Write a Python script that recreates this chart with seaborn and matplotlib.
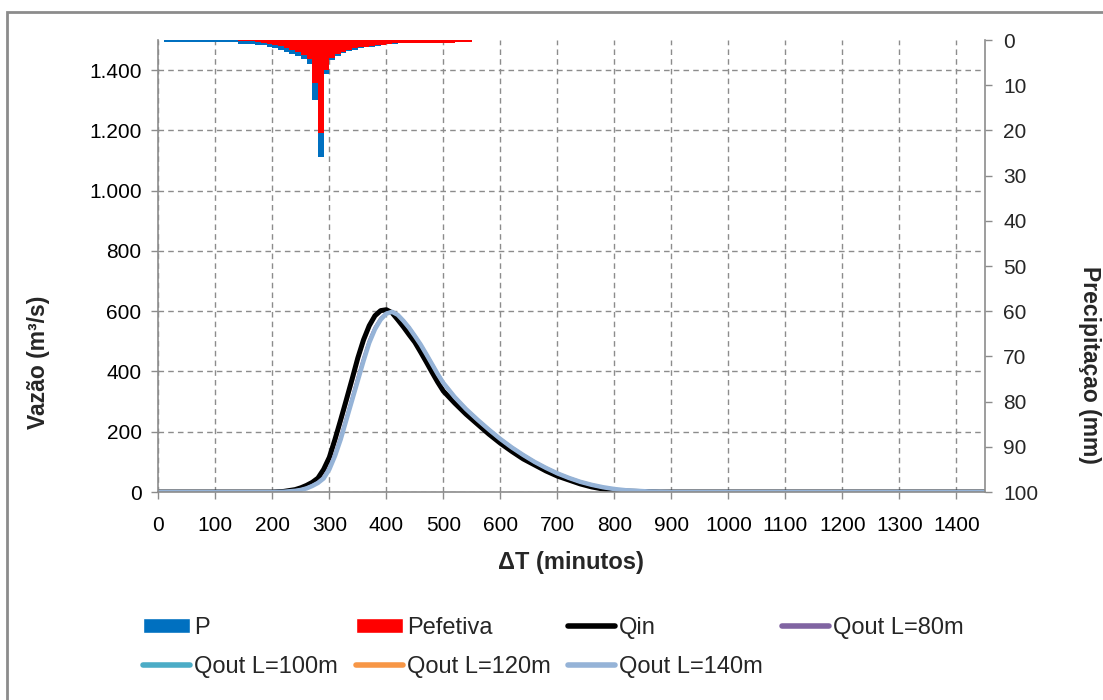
import numpy as np
import pandas as pd
import seaborn as sns
import matplotlib.pyplot as plt
from matplotlib.patches import Patch, Rectangle
from matplotlib.lines import Line2D
from matplotlib.ticker import FuncFormatter

# Hietograma (barras de 10 min, borda esquerda em t)
t_chuva = np.arange(10, 550, 10)
p_total = [0.5, 0.5, 0.5, 0.5, 0.5, 0.5, 0.5, 0.5, 0.5, 0.5, 0.5, 0.5, 0.5,
           0.8, 0.85, 0.9, 1.0, 1.1, 1.5, 1.85, 2.2, 2.6, 3.0, 3.6, 4.3, 5.2,
           13.3, 25.8, 7.6, 4.4, 3.5, 2.9, 2.5, 2.1, 1.85, 1.6, 1.5, 1.3, 1.1,
           0.95, 0.8, 0.75, 0.7, 0.65, 0.65, 0.6, 0.6, 0.6, 0.55, 0.55, 0.55,
           0.5, 0.5, 0.5]
p_efetiva = [0, 0, 0, 0, 0, 0, 0, 0, 0, 0, 0, 0, 0,
             0.15, 0.2, 0.3, 0.4, 0.55, 0.8, 1.05, 1.35, 1.7, 2.1, 2.6, 3.3, 4.2,
             9.5, 20.6, 6.6, 3.9, 3.1, 2.6, 2.2, 1.85, 1.65, 1.45, 1.35, 1.15, 1.0,
             0.85, 0.72, 0.68, 0.7, 0.65, 0.65, 0.6, 0.6, 0.6, 0.55, 0.55, 0.55,
             0.5, 0.5, 0.5]

# Hidrogramas
t_q = [0, 200, 220, 240, 250, 260, 270, 280, 290, 300, 310, 320, 330, 340, 350,
       360, 370, 380, 390, 400, 410, 420, 430, 440, 450, 460, 470, 480, 490, 500,
       520, 540, 560, 580, 600, 620, 640, 660, 680, 700, 720, 740, 760, 780, 800,
       820, 840, 860, 880, 900, 920, 1450]
q_in = [0, 0, 2, 8, 14, 22, 32, 46, 75, 115, 175, 240, 307, 375, 445,
        505, 552, 585, 602, 605, 595, 572, 548, 522, 497, 465, 432, 398, 365, 335,
        295, 258, 225, 192, 162, 135, 110, 90, 70, 53, 40, 27, 17, 10, 5,
        3, 2, 1, 0, 0, 0, 0]
q_out_80 = [0, 0, 1, 5, 8, 14, 22, 33, 50, 82, 128, 185, 250, 315, 382,
            446, 504, 547, 577, 594, 599, 589, 569, 546, 519, 490, 458, 425, 392, 362,
            314, 274, 239, 206, 175, 147, 122, 99, 79, 61, 46, 33, 23, 15, 9,
            6, 3, 2, 1, 0, 0, 0]
q_out_100 = [0, 0, 1, 4, 7, 13, 21, 31, 47, 78, 123, 179, 244, 309, 375,
             440, 499, 543, 574, 593, 598, 588, 568, 545, 518, 490, 458, 425, 392, 362,
             315, 275, 240, 207, 176, 148, 123, 100, 80, 62, 47, 34, 24, 16, 10,
             6, 4, 2, 1, 0, 0, 0]
q_out_120 = [0, 0, 1, 4, 7, 12, 20, 30, 46, 76, 121, 177, 242, 307, 372,
             437, 497, 541, 573, 592, 598, 588, 568, 545, 518, 490, 458, 426, 393, 363,
             316, 276, 241, 208, 177, 149, 124, 101, 81, 63, 48, 35, 25, 16, 10,
             6, 4, 2, 1, 0, 0, 0]
q_out_140 = [0, 0, 1, 4, 7, 12, 20, 30, 45, 75, 120, 175, 240, 305, 370,
             435, 495, 540, 572, 592, 598, 588, 568, 545, 518, 490, 458, 425, 392, 362,
             315, 275, 240, 207, 176, 148, 123, 100, 80, 62, 47, 34, 24, 16, 10,
             6, 4, 2, 1, 0, 0, 0]

series = [
    ("Qin", q_in, "#000000", 3.6),
    ("Qout L=80m", q_out_80, "#8064A2", 2.0),
    ("Qout L=100m", q_out_100, "#4BACC6", 2.0),
    ("Qout L=120m", q_out_120, "#F79646", 2.0),
    ("Qout L=140m", q_out_140, "#95B3D7", 3.2),
]

sns.set_theme(style="white")
plt.rcParams['font.family'] = ['Liberation Sans', 'DejaVu Sans']

fig = plt.figure(figsize=(11.03, 7.0), dpi=100)
ax = fig.add_axes([0.1435, 0.2971, 0.7495, 0.6457])

df = pd.DataFrame({"t": t_q})
for nome, vals, cor, lw in series:
    df[nome] = vals
    sns.lineplot(data=df, x="t", y=nome, ax=ax, color=cor, linewidth=lw,
                 legend=False, solid_capstyle="round")

cinza = "#8c8c8c"
tick_fs = 15
ax.set_xlim(0, 1450)
ax.set_ylim(0, 1500)
ax.set_xticks(np.arange(0, 1500, 100))
ax.set_yticks(np.arange(0, 1500, 200))
ax.yaxis.set_major_formatter(FuncFormatter(lambda v, p: f"{v:,.0f}".replace(",", ".")))
ax.grid(True, color=cinza, linestyle=(0, (4, 3)), linewidth=1)
ax.set_xlabel("")
ax.set_ylabel("")
for s in ["top", "right"]:
    ax.spines[s].set_visible(False)
for s in ["left", "bottom"]:
    ax.spines[s].set_color(cinza)
    ax.spines[s].set_linewidth(1.2)
ax.tick_params(axis="both", which="both", direction="out", length=5, width=1,
               color=cinza, labelsize=tick_fs, labelcolor="black",
               left=True, bottom=True)
ax.tick_params(axis="x", pad=12)
ax.tick_params(axis="y", pad=7)

ax2 = ax.twinx()
ax2.bar(t_chuva, p_total, width=10, align="edge", color="#0070C0", linewidth=0)
ax2.bar(t_chuva, p_efetiva, width=10, align="edge", color="#FF0000", linewidth=0)
ax2.set_ylim(100, 0)
ax2.set_yticks(np.arange(0, 101, 10))
ax2.set_xlim(0, 1450)
ax2.grid(False)
for s in ["top", "left", "bottom"]:
    ax2.spines[s].set_visible(False)
ax2.spines["right"].set_color(cinza)
ax2.spines["right"].set_linewidth(1.2)
ax2.tick_params(axis="y", direction="out", length=5, width=1, color=cinza,
                labelsize=tick_fs, right=True, pad=8)

fig.text(38 / 1103, 1 - 362 / 700, "Vazão (m³/s)", rotation=90, ha="center",
         va="center", fontsize=16.5, fontweight="bold")
fig.text(1089 / 1103, 1 - 365 / 700, "Precipitaçao (mm)", rotation=270,
         ha="center", va="center", fontsize=16.5, fontweight="bold")
fig.text(571 / 1103, 1 - 563 / 700, "ΔT (minutos)", ha="center", va="center",
         fontsize=17, fontweight="bold")

# legenda em 4 colunas fixas
colunas = [
    [Patch(facecolor="#0070C0", label="P"), Line2D([], [], color="#4BACC6", lw=4, label="Qout L=100m")],
    [Patch(facecolor="#FF0000", label="Pefetiva"), Line2D([], [], color="#F79646", lw=4, label="Qout L=120m")],
    [Line2D([], [], color="#000000", lw=4, label="Qin"), Line2D([], [], color="#95B3D7", lw=4, label="Qout L=140m")],
    [Line2D([], [], color="#8064A2", lw=4, label="Qout L=80m")],
]
x_cols = [143, 356, 568, 782]
for x0, hs in zip(x_cols, colunas):
    fig.legend(handles=hs, loc="upper left",
               bbox_to_anchor=(x0 / 1103, 1 - 617 / 700), frameon=False,
               fontsize=17, handlelength=2.0, handleheight=0.6,
               handletextpad=0.15, labelspacing=0.72, borderpad=0,
               borderaxespad=0)

fig.patches.append(Rectangle((7 / 1103, -0.05), 1.1, 1 - 12 / 700 + 0.05,
                             transform=fig.transFigure, fill=False,
                             edgecolor="#8c8c8c", linewidth=2))

fig.savefig("out.png", dpi=100)
